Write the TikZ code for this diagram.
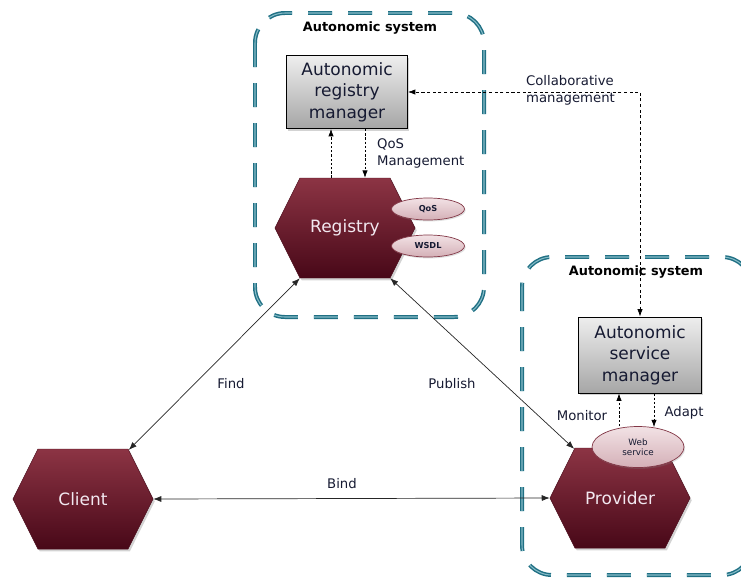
\documentclass[tikz,border=0pt]{standalone}
\usepackage{fontspec}
\setmainfont{DejaVu Sans}
\usetikzlibrary{shapes.geometric, shapes.symbols, shadows, arrows.meta}

\definecolor{hextop}{RGB}{140,52,68}
\definecolor{hexbot}{RGB}{72,8,24}
\definecolor{hextext}{RGB}{242,232,240}
\definecolor{boxtop}{RGB}{238,238,238}
\definecolor{boxbot}{RGB}{166,166,166}
\definecolor{tagtop}{RGB}{242,226,229}
\definecolor{tagbot}{RGB}{212,176,183}
\definecolor{tagline}{RGB}{130,55,70}
\definecolor{rimdark}{RGB}{32,112,132}
\definecolor{rimlight}{RGB}{135,188,200}
\definecolor{ink}{RGB}{22,26,50}

\tikzset{
  hexa/.style={signal, signal to=east and west, signal pointer angle=127,
    minimum width=4.2cm, minimum height=3cm, inner sep=0pt,
    top color=hextop, bottom color=hexbot, draw=hexbot,
    text=hextext, font=\fontsize{14.5}{17}\selectfont,
    drop shadow={shadow xshift=1.5pt, shadow yshift=-2pt, opacity=0.35}},
  manager/.style={rectangle, draw=black, line width=0.8pt, inner sep=0pt,
    top color=boxtop, bottom color=boxbot, align=center, text=ink,
    font=\fontsize{14.5}{18.5}\selectfont,
    drop shadow={shadow xshift=1.5pt, shadow yshift=-2pt, opacity=0.35}},
  tag/.style={ellipse, draw=tagline, line width=0.6pt, inner sep=0pt,
    top color=tagtop, bottom color=tagbot, text=ink, align=center,
    font=\bfseries\fontsize{7}{8}\selectfont,
    drop shadow={shadow xshift=1pt, shadow yshift=-1.2pt, opacity=0.25}},
  rim/.style={rimdark, line width=3.4pt, rounded corners=0.9cm,
    dash pattern=on 0.72cm off 0.48cm},
  rimcore/.style={rimlight, line width=0.9pt, rounded corners=0.9cm,
    dash pattern=on 0.72cm off 0.48cm},
  systitle/.style={font=\bfseries\fontsize{11}{13}\selectfont, text=black},
  lbl/.style={font=\fontsize{11.3}{14.5}\selectfont, text=ink, align=left},
  ctrl/.style={dash pattern=on 2pt off 1.6pt, line width=0.6pt,
    -{Latex[length=2.2mm, width=1.6mm]}},
  collab/.style={dash pattern=on 2.6pt off 2.2pt, line width=0.6pt,
    {Latex[length=2.2mm, width=1.6mm]}-{Latex[length=2.2mm, width=1.6mm]}},
  link/.style={line width=0.6pt, black!85,
    {Latex[length=2.4mm, width=1.8mm]}-{Latex[length=2.4mm, width=1.8mm]}},
}

\begin{document}
\begin{tikzpicture}[x=0.03cm, y=-0.03cm]
\useasboundingbox (0,0) rectangle (741,581);

% the two autonomic systems
\foreach \xa/\ya/\xb/\yb in {255/13/484/317, 522/257/752/575} {
  \draw[rim] (\xa,\ya) rectangle (\xb,\yb);
  \draw[rimcore] (\xa,\ya) rectangle (\xb,\yb);
}
\node[systitle] (sysreg) at (370,28) {Autonomic system};
\node[systitle] (syssvc) at (636,272) {Autonomic system};

% managers
\node[manager, minimum width=3.63cm, minimum height=2.19cm] (regmgr) at (347,92) {Autonomic\\registry\\manager};
\node[manager, minimum width=3.69cm, minimum height=2.28cm] (svcmgr) at (640,355) {Autonomic\\service\\manager};

% actors
\node[hexa] (registry) at (345,228) {Registry};
\node[hexa] (provider) at (620,498) {Provider};
\node[hexa] (client) at (83,499) {Client};

\node[tag, minimum width=2.19cm, minimum height=0.66cm] (qos) at (428,209) {QoS};
\node[tag, minimum width=2.19cm, minimum height=0.66cm] (wsdl) at (428,246) {WSDL};
\node[tag, minimum width=2.76cm, minimum height=1.23cm, font=\fontsize{7.5}{9}\selectfont] (websvc) at (638,447) {Web\\service};

% control loops
\draw[ctrl] ([xshift=-0.42cm]registry.north) -- ([xshift=-0.42cm]registry.north |- regmgr.south);
\draw[ctrl] ([xshift=0.54cm]regmgr.south) -- ([xshift=0.54cm]regmgr.south |- registry.north);
\node[lbl, anchor=west] (qosmgmt) at (373,153) {QoS\\Management};

\draw[collab] (svcmgr.north) |- (regmgr.east);
\node[lbl, anchor=west] (collabtxt) at (522,90) {Collaborative\\management};

\draw[ctrl] ([xshift=-0.63cm]svcmgr.south |- websvc.north) -- ([xshift=-0.63cm]svcmgr.south);
\draw[ctrl] ([xshift=0.42cm]svcmgr.south) -- ([xshift=0.42cm,yshift=-0.03cm]svcmgr.south |- websvc.north);
\node[lbl] (monitor) at (582,416) {Monitor};
\node[lbl] (adapt) at (684,413) {Adapt};

% service interactions
\draw[link] (client.47) -- (registry.228);
\draw[link] (registry.312) -- (provider.133);
\draw[link] (client.east) -- (provider.west);
\node[lbl] (find) at (231,384) {Find};
\node[lbl] (publish) at (452,384) {Publish};
\node[lbl] (bind) at (342,484) {Bind};
\end{tikzpicture}
\end{document}
